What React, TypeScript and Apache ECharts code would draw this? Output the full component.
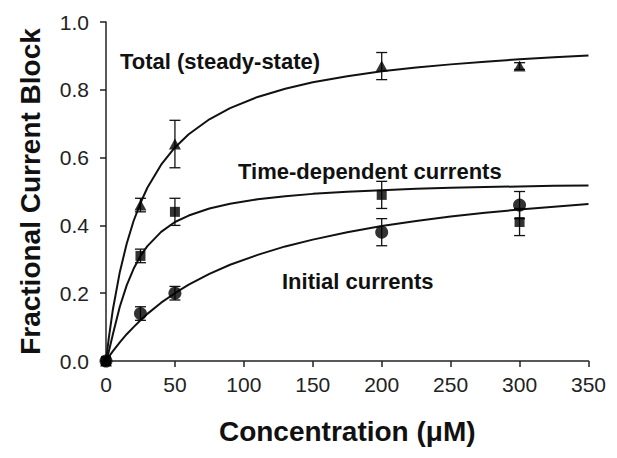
import React, { useEffect, useRef } from "react";
import * as echarts from "echarts";

// Measured data points (concentration in µM)
const concentrations = [0, 25, 50, 200, 300];
const totalBlock = [0, 0.46, 0.64, 0.87, 0.87];
const totalErr = [0, 0.02, 0.07, 0.04, 0.01];
const timeDepBlock = [0, 0.31, 0.44, 0.49, 0.41];
const timeDepErr = [0, 0.02, 0.04, 0.04, 0.04];
const initialBlock = [0, 0.14, 0.2, 0.38, 0.46];
const initialErr = [0, 0.02, 0.02, 0.04, 0.04];

// Fitted curves
const fitX = [0, 2, 5, 10, 15, 20, 25, 30, 40, 50, 60, 75, 90, 110, 130, 150, 175, 200, 225, 250, 275, 300, 325, 350];
const totalFit = [0, 0.067, 0.152, 0.262, 0.346, 0.413, 0.466, 0.511, 0.579, 0.63, 0.669, 0.713, 0.746, 0.779, 0.803, 0.822, 0.84, 0.855, 0.866, 0.875, 0.883, 0.89, 0.896, 0.901];
const timeDepFit = [0, 0.027, 0.079, 0.16, 0.223, 0.272, 0.31, 0.339, 0.381, 0.41, 0.429, 0.45, 0.464, 0.477, 0.486, 0.493, 0.499, 0.504, 0.508, 0.511, 0.513, 0.515, 0.517, 0.518];
const initialFit = [0, 0.012, 0.029, 0.055, 0.079, 0.1, 0.12, 0.139, 0.172, 0.2, 0.225, 0.257, 0.284, 0.313, 0.338, 0.358, 0.38, 0.398, 0.413, 0.426, 0.437, 0.447, 0.455, 0.463];

const xTicks = [0, 50, 100, 150, 200, 250, 300, 350];

const FONT = "Liberation Sans, Arial, sans-serif";

function pts(ys: number[]) {
  return concentrations.map((x, i) => [x, ys[i]]);
}
function errs(ys: number[], es: number[]) {
  return concentrations
    .map((x, i) => [x, ys[i], es[i]])
    .filter((d) => d[2] > 0);
}
function fit(ys: number[]) {
  return fitX.map((x, i) => [x, ys[i]]);
}

const errRender = (params: any, api: any) => {
  const x = api.value(0);
  const y = api.value(1);
  const e = api.value(2);
  const top = api.coord([x, y + e]);
  const bot = api.coord([x, y - e]);
  const hw = 5.5;
  const style = { stroke: "#111", lineWidth: 1.3 };
  return {
    type: "group",
    children: [
      { type: "line", shape: { x1: top[0], y1: top[1], x2: bot[0], y2: bot[1] }, style },
      { type: "line", shape: { x1: top[0] - hw, y1: top[1], x2: top[0] + hw, y2: top[1] }, style },
      { type: "line", shape: { x1: bot[0] - hw, y1: bot[1], x2: bot[0] + hw, y2: bot[1] }, style },
    ],
  };
};

export default function App() {
  const ref = useRef<HTMLDivElement>(null);
  useEffect(() => {
    if (!ref.current) return;
    const chart = echarts.init(ref.current, undefined, { renderer: "svg" });
    const lineSeries = (ys: number[]) => ({
      type: "line",
      data: fit(ys),
      smooth: false,
      showSymbol: false,
      symbol: "none",
      lineStyle: { color: "#111", width: 2, join: "round" },
      z: 2,
    });
    const scatter = (ys: number[], symbol: string, size: number | number[]) => ({
      type: "scatter",
      data: pts(ys),
      symbol,
      symbolSize: size,
      itemStyle: { color: "#000" },
      z: 4,
    });
    const errSeries = (ys: number[], es: number[]) => ({
      type: "custom",
      data: errs(ys, es),
      renderItem: errRender,
      encode: { x: 0, y: 1 },
      z: 3,
    });
    chart.setOption({
      animation: false,
      backgroundColor: "#fff",
      grid: { left: 89, right: 12, top: 14, bottom: 77 },
      xAxis: {
        type: "value",
        min: 0,
        max: 350,
        interval: 50,
        name: "Concentration (\u03bcM)",
        nameLocation: "middle",
        nameGap: 56,
        nameTextStyle: { fontFamily: FONT, fontSize: 28, fontWeight: "bold", color: "#111" },
        axisLine: { lineStyle: { color: "#222", width: 1.5 } },
        axisTick: { show: true, inside: false, length: 6, lineStyle: { color: "#222", width: 1.5 } },
        axisLabel: {
          fontFamily: FONT,
          fontSize: 21,
          color: "#222",
          margin: 13,
          formatter: (v: number) => (xTicks.includes(v) ? String(v) : ""),
        },
        splitLine: { show: false },
      },
      yAxis: {
        type: "value",
        min: 0,
        max: 1,
        interval: 0.2,
        name: "Fractional Current Block",
        nameLocation: "middle",
        nameGap: 62,
        nameTextStyle: { fontFamily: FONT, fontSize: 28, fontWeight: "bold", color: "#111" },
        axisLine: { show: true, lineStyle: { color: "#222", width: 1.5 } },
        axisTick: { show: true, inside: false, length: 6, lineStyle: { color: "#222", width: 1.5 } },
        axisLabel: {
          fontFamily: FONT,
          fontSize: 21,
          color: "#222",
          margin: 17,
          formatter: (v: number) => v.toFixed(1),
        },
        splitLine: { show: false },
      },
      graphic: [
        {
          type: "text",
          left: 112,
          top: 42,
          style: { text: "Total (steady-state)", font: `bold 22px ${FONT}`, fill: "#111" },
        },
        {
          type: "text",
          left: 230,
          top: 152,
          style: { text: "Time-dependent currents", font: `bold 22px ${FONT}`, fill: "#111" },
        },
        {
          type: "text",
          left: 274,
          top: 262,
          style: { text: "Initial currents", font: `bold 22px ${FONT}`, fill: "#111" },
        },
      ],
      series: [
        lineSeries(totalFit),
        lineSeries(timeDepFit),
        lineSeries(initialFit),
        errSeries(totalBlock, totalErr),
        errSeries(timeDepBlock, timeDepErr),
        errSeries(initialBlock, initialErr),
        scatter(totalBlock, "triangle", [12, 11]),
        scatter(timeDepBlock, "rect", 10),
        scatter(initialBlock, "circle", 13),
      ],
    });
    return () => chart.dispose();
  }, []);
  return <div ref={ref} style={{ width: 601, height: 442 }} />;
}
